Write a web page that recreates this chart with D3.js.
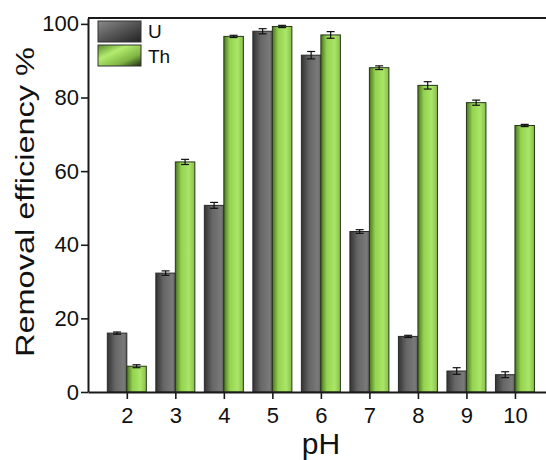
<!DOCTYPE html>
<html>
<head>
<meta charset="utf-8">
<script src="https://cdn.jsdelivr.net/npm/d3@7"></script>
<style>
  body { margin: 0; background: #fff; }
  text { font-family: "Liberation Sans", Arial, sans-serif; fill: #111; }
</style>
</head>
<body>
<div id="chart"></div>
<script>
// data
const phValues = [2, 3, 4, 5, 6, 7, 8, 9, 10];
const uValues  = [16.0, 32.3, 50.7, 98.0, 91.5, 43.6, 15.1, 5.7, 4.7];
const uErrors  = [0.3, 0.6, 0.8, 0.7, 1.0, 0.5, 0.3, 0.9, 0.8];
const thValues = [7.0, 62.5, 96.6, 99.3, 97.0, 88.1, 83.3, 78.6, 72.4];
const thErrors = [0.4, 0.7, 0.3, 0.3, 0.9, 0.5, 1.0, 0.7, 0.3];
const yTicks = [0, 20, 40, 60, 80, 100];
const seriesNames = ["U", "Th"];

const W = 546, H = 460;
const margin = {top: 18, right: 0, bottom: 68, left: 88},
    width = W - margin.left - margin.right,
    height = H - margin.top - margin.bottom;

const svg = d3.select("#chart")
    .append("svg")
        .attr("width", W)
        .attr("height", H);

// gradients for the bars and legend swatches
const defs = svg.append("defs");
const uGrad = defs.append("linearGradient").attr("id", "uGrad");
[[0, "#333333"], [0.4, "#666666"], [0.85, "#7a7a7a"], [1, "#5c5c5c"]]
    .forEach(([o, c]) => uGrad.append("stop").attr("offset", o).attr("stop-color", c));
const thGrad = defs.append("linearGradient").attr("id", "thGrad");
[[0, "#4a7420"], [0.3, "#94d250"], [0.7, "#aae667"], [1, "#88be4a"]]
    .forEach(([o, c]) => thGrad.append("stop").attr("offset", o).attr("stop-color", c));
const uLeg = defs.append("linearGradient").attr("id", "uLeg")
    .attr("x1", 0).attr("y1", 0).attr("x2", 1).attr("y2", 1);
[[0, "#8a8a8a"], [0.5, "#555555"], [1, "#222222"]]
    .forEach(([o, c]) => uLeg.append("stop").attr("offset", o).attr("stop-color", c));
const thLeg = defs.append("linearGradient").attr("id", "thLeg")
    .attr("x1", 0).attr("y1", 0).attr("x2", 1).attr("y2", 1);
[[0, "#5a8a2a"], [0.35, "#b2ec6e"], [0.7, "#7fb443"], [1, "#1e2a10"]]
    .forEach(([o, c]) => thLeg.append("stop").attr("offset", o).attr("stop-color", c));

const g = svg.append("g")
    .attr("transform", `translate(${margin.left}, ${margin.top})`);

// scales
const x = d3.scaleLinear()
    .domain([1.2, 10.64])
    .range([0, width]);

const y = d3.scaleLinear()
    .domain([0, 101.6])
    .range([height, 0]);

const barW = 19.5;

// bars
const rows = phValues.map((p, i) => ({
    ph: p, u: uValues[i], ue: uErrors[i], th: thValues[i], te: thErrors[i]
}));

g.selectAll(".barU")
    .data(rows)
    .join("rect")
    .attr("x", d => x(d.ph) - barW)
    .attr("y", d => y(d.u))
    .attr("width", barW)
    .attr("height", d => height - y(d.u))
    .attr("fill", "url(#uGrad)")
    .attr("stroke", "#2a2a2a")
    .attr("stroke-width", 1);

g.selectAll(".barTh")
    .data(rows)
    .join("rect")
    .attr("x", d => x(d.ph))
    .attr("y", d => y(d.th))
    .attr("width", barW)
    .attr("height", d => height - y(d.th))
    .attr("fill", "url(#thGrad)")
    .attr("stroke", "#26361a")
    .attr("stroke-width", 1);

// error bars
function errorBars(cls, cx, val, err) {
    const eb = g.selectAll("." + cls)
        .data(rows)
        .join("g")
        .attr("stroke", "#111")
        .attr("stroke-width", 1.2);
    eb.append("line")
        .attr("x1", cx).attr("x2", cx)
        .attr("y1", d => y(val(d) + err(d)))
        .attr("y2", d => y(val(d) - err(d)));
    eb.append("line")
        .attr("x1", d => cx(d) - 4).attr("x2", d => cx(d) + 4)
        .attr("y1", d => y(val(d) + err(d)))
        .attr("y2", d => y(val(d) + err(d)));
    eb.append("line")
        .attr("x1", d => cx(d) - 4).attr("x2", d => cx(d) + 4)
        .attr("y1", d => y(val(d) - err(d)))
        .attr("y2", d => y(val(d) - err(d)));
}
errorBars("ebU", d => x(d.ph) - barW / 2, d => d.u, d => d.ue);
errorBars("ebTh", d => x(d.ph) + barW / 2, d => d.th, d => d.te);

// axes
const xAxis = g.append("g")
    .attr("transform", `translate(0, ${height})`)
    .call(d3.axisBottom(x).tickValues(phValues).tickSize(7).tickPadding(8).tickSizeOuter(0));
const yAxis = g.append("g")
    .call(d3.axisLeft(y).tickValues(yTicks).tickSize(7).tickPadding(2).tickSizeOuter(0));

[xAxis, yAxis].forEach(a => {
    a.select(".domain").attr("stroke", "#1a1a1a").attr("stroke-width", 2);
    a.selectAll(".tick line").attr("stroke", "#1a1a1a").attr("stroke-width", 1.6);
    a.selectAll(".tick text")
        .style("font-size", "22px")
        .style("font-family", "'Liberation Sans', Arial, sans-serif")
        .attr("fill", "#111");
});

// top border
g.append("line")
    .attr("x1", 0).attr("x2", width)
    .attr("y1", 0).attr("y2", 0)
    .attr("stroke", "#1a1a1a")
    .attr("stroke-width", 2);

// axis labels
svg.append("text")
    .attr("x", 321)
    .attr("y", 454)
    .style("text-anchor", "middle")
    .style("font-size", "30px")
    .text("pH");

svg.append("text")
    .attr("transform", "rotate(-90)")
    .attr("x", -202)
    .attr("y", 34)
    .style("text-anchor", "middle")
    .style("font-size", "26px")
    .attr("textLength", 310)
    .attr("lengthAdjust", "spacingAndGlyphs")
    .text("Removal efficiency %");

// legend
const legend = svg.append("g")
    .attr("transform", "translate(98, 21)");
seriesNames.forEach((name, i) => {
    legend.append("rect")
        .attr("x", 0)
        .attr("y", i * 24)
        .attr("width", 43)
        .attr("height", 21)
        .attr("fill", i === 0 ? "url(#uLeg)" : "url(#thLeg)")
        .attr("stroke", "#333")
        .attr("stroke-width", 1);
    legend.append("text")
        .attr("x", 50)
        .attr("y", i * 25 + 17)
        .style("font-size", "19px")
        .text(name);
});
</script>
</body>
</html>
